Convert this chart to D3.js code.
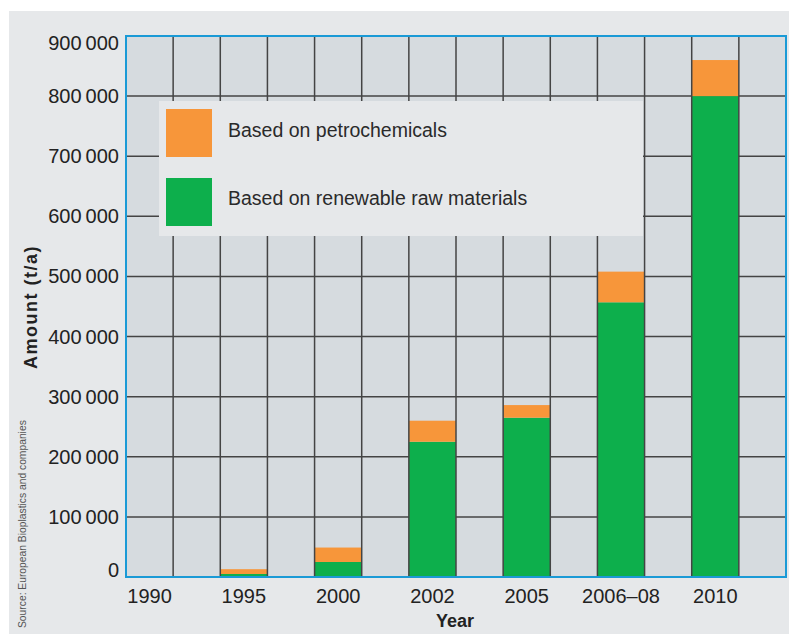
<!DOCTYPE html>
<html>
<head>
<meta charset="utf-8">
<script src="https://cdn.jsdelivr.net/npm/d3@7"></script>
<style>
  body { margin: 0; background: #fff; }
  text { font-family: "Liberation Sans", Arial, sans-serif; }
</style>
</head>
<body>
<svg width="789" height="635"></svg>
<script>
var years = ["1990", "", "1995", "", "2000", "", "2002", "", "2005", "", "2006–08", "", "2010", ""];
var renewable = [0, 0, 5000, 0, 25000, 0, 225000, 0, 265000, 0, 457000, 0, 800000, 0];
var petro = [0, 0, 8000, 0, 24000, 0, 35000, 0, 21000, 0, 51000, 0, 60000, 0];
var yTicks = [0, 100000, 200000, 300000, 400000, 500000, 600000, 700000, 800000, 900000];
var legendLabels = ["Based on petrochemicals", "Based on renewable raw materials"];
var colors = ["#f7963a", "#0daf4c"];

var svg = d3.select("svg");

var plotLeft = 126, plotRight = 786, plotTop = 36, plotBottom = 577;

svg.append("rect")
    .attr("x", 9).attr("y", 11)
    .attr("width", 780).attr("height", 623)
    .attr("fill", "#e6e8ea");

var x = d3.scaleBand()
    .domain(d3.range(years.length))
    .range([plotLeft, plotRight])
    .padding(0);

var y = d3.scaleLinear()
    .domain([0, 900000])
    .range([plotBottom, plotTop]);

svg.append("rect")
    .attr("x", plotLeft).attr("y", plotTop)
    .attr("width", plotRight - plotLeft).attr("height", plotBottom - plotTop)
    .attr("fill", "#d6dbdf");

// horizontal grid
svg.append("g")
    .selectAll("line")
    .data(yTicks)
    .enter().append("line")
    .attr("x1", plotLeft).attr("x2", plotRight)
    .attr("y1", function(d) { return y(d); })
    .attr("y2", function(d) { return y(d); })
    .attr("stroke", "#444")
    .attr("stroke-width", 1.5);

// stacked bars
var bars = svg.append("g");
bars.selectAll(".green")
    .data(renewable)
    .enter().append("rect")
    .attr("x", function(d, i) { return x(i); })
    .attr("width", x.bandwidth())
    .attr("y", function(d) { return y(d); })
    .attr("height", function(d) { return y(0) - y(d); })
    .attr("fill", colors[1]);

bars.selectAll(".orange")
    .data(petro)
    .enter().append("rect")
    .attr("x", function(d, i) { return x(i); })
    .attr("width", x.bandwidth())
    .attr("y", function(d, i) { return y(d + renewable[i]); })
    .attr("height", function(d) { return y(0) - y(d); })
    .attr("fill", colors[0]);

// vertical grid
svg.append("g")
    .selectAll("line")
    .data(d3.range(1, years.length))
    .enter().append("line")
    .attr("x1", function(i) { return x(i); })
    .attr("x2", function(i) { return x(i); })
    .attr("y1", plotTop).attr("y2", plotBottom)
    .attr("stroke", "#444")
    .attr("stroke-width", 1.5);

// plot border
svg.append("rect")
    .attr("x", plotLeft).attr("y", plotTop)
    .attr("width", plotRight - plotLeft).attr("height", plotBottom - plotTop)
    .attr("fill", "none")
    .attr("stroke", "#1a9ad6")
    .attr("stroke-width", 2);

// legend
var lg = svg.append("g");
lg.append("rect")
    .attr("x", 159).attr("y", 101)
    .attr("width", 484).attr("height", 135)
    .attr("fill", "#e6e8ea");
lg.selectAll(".sw")
    .data(legendLabels)
    .enter().append("rect")
    .attr("x", 166)
    .attr("y", function(d, i) { return 109 + i * 69; })
    .attr("width", 46).attr("height", 48)
    .attr("fill", function(d, i) { return colors[i]; });
lg.selectAll(".lt")
    .data(legendLabels)
    .enter().append("text")
    .attr("x", 228)
    .attr("y", function(d, i) { return 137 + i * 68; })
    .attr("font-size", 19.5)
    .attr("fill", "#2a2a2a")
    .text(function(d) { return d; });

// y tick labels
var fmt = function(d) {
  if (d === 0) return "0";
  var s = String(d);
  return s.slice(0, s.length - 3) + "\u2009" + s.slice(-3);
};
svg.append("g")
    .selectAll("text")
    .data(yTicks)
    .enter().append("text")
    .attr("x", 119)
    .attr("y", function(d) {
      var off = d === 0 ? -7 : (d === 900000 ? 7 : 0);
      return y(d) + off;
    })
    .attr("dy", "0.35em")
    .attr("text-anchor", "end")
    .attr("font-size", 20)
    .attr("fill", "#222")
    .text(fmt);

// x tick labels
svg.append("g")
    .selectAll("text")
    .data(years)
    .enter().append("text")
    .attr("x", function(d, i) { return x(i) + x.bandwidth() / 2; })
    .attr("y", 603)
    .attr("text-anchor", "middle")
    .attr("font-size", 20)
    .attr("fill", "#222")
    .text(function(d) { return d; });

svg.append("text")
    .attr("x", 455).attr("y", 627)
    .attr("text-anchor", "middle")
    .attr("font-size", 18)
    .attr("font-weight", "bold")
    .attr("fill", "#222")
    .text("Year");

svg.append("text")
    .attr("transform", "translate(37,307) rotate(-90)")
    .attr("text-anchor", "middle")
    .attr("font-size", 18)
    .attr("letter-spacing", 1.5)
    .attr("font-weight", "bold")
    .attr("fill", "#222")
    .text("Amount (t/a)");

svg.append("text")
    .attr("transform", "translate(26,628) rotate(-90)")
    .attr("text-anchor", "start")
    .attr("font-size", 10.3)
    .attr("fill", "#555")
    .text("Source: European Bioplastics and companies");
</script>
</body>
</html>
